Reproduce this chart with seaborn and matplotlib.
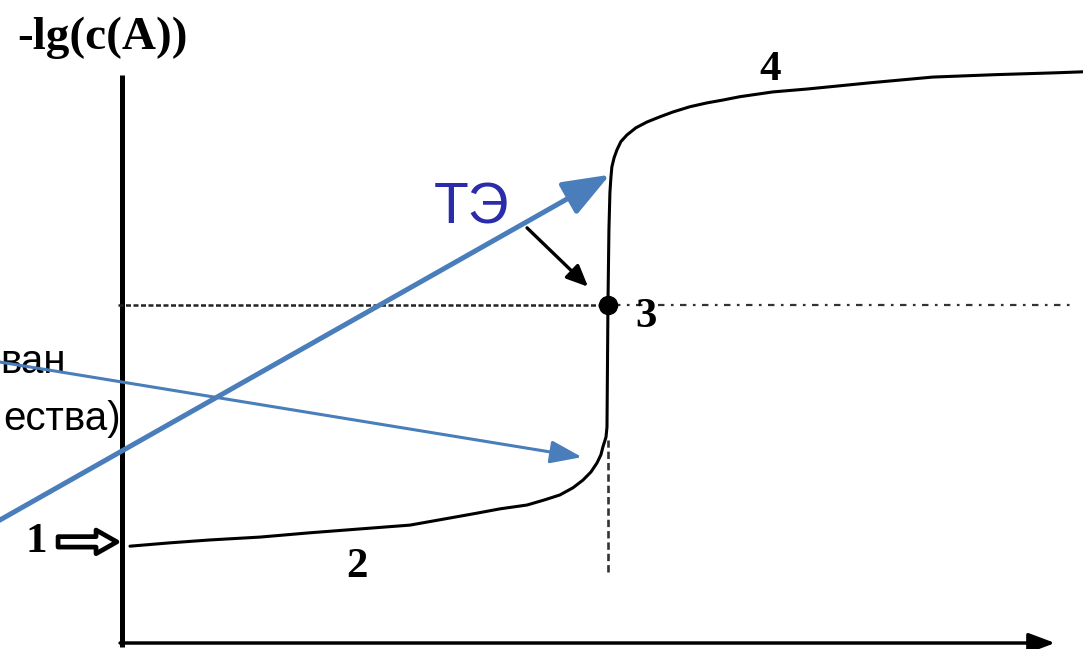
import numpy as np
import pandas as pd
import seaborn as sns
import matplotlib.pyplot as plt

# ---- data (titration curve) ----
volume = [0.33, 1.98, 3.62, 5.68, 7.74, 9.79, 11.85, 13.29, 14.61, 15.56,
          16.67, 17.41, 18.02, 18.56, 18.97, 19.30, 19.55, 19.71, 19.79, 19.92,
          19.96, 20.00, 20.04, 20.08, 20.12, 20.16, 20.25, 20.37, 20.53, 20.78,
          21.15, 21.60, 22.14, 22.67, 23.37, 24.07, 24.73, 25.43, 26.79, 28.19,
          30.78, 33.37, 35.93, 38.48, 39.55]
neg_lg_c = [1.96, 2.03, 2.09, 2.15, 2.24, 2.32, 2.40, 2.53, 2.65, 2.74,
            2.82, 2.93, 3.03, 3.18, 3.34, 3.51, 3.70, 3.87, 4.03, 4.24,
            4.45, 7.00, 8.57, 9.34, 9.65, 9.88, 10.07, 10.24, 10.41, 10.55,
            10.70, 10.82, 10.93, 11.03, 11.14, 11.22, 11.28, 11.35, 11.45, 11.51,
            11.64, 11.76, 11.81, 11.85, 11.87]
eq_volume = 20.0
eq_value = 7.0
point_labels = ["1", "2", "3", "4"]
y_label = "-lg(c(A))"
te_label = "ТЭ"
side_text = ["ван", "ества)"]

sns.set_style("white")
plt.rcParams["text.color"] = "black"
serif = ["Liberation Serif", "DejaVu Serif"]
sans = ["Liberation Sans", "DejaVu Sans"]

fig = plt.figure(figsize=(10.83, 6.49), dpi=100)
ax = fig.add_axes([0, 0, 1, 1])
ax.set_xlim(-5.02, 39.55)
ax.set_ylim(-0.188, 13.37)
ax.axis("off")

df = pd.DataFrame({"V": volume, "pA": neg_lg_c})
sns.lineplot(data=df, x="V", y="pA", ax=ax, color="black", lw=2.2,
             sort=False, estimator=None, zorder=3,
             solid_joinstyle="round", solid_capstyle="round")

# axes drawn as arrows
ax.plot([0, 0], [-0.146, 11.8], color="black", lw=3.6, solid_capstyle="butt")
ax.annotate("", xy=(38.4, -0.063), xytext=(-0.08, -0.063),
            arrowprops=dict(arrowstyle="-|>,head_length=0.8,head_width=0.3",
                            lw=2.5, color="black", mutation_scale=20,
                            shrinkA=0, shrinkB=0))

# equivalence reference lines
ax.plot([-0.16, eq_volume - 0.33], [eq_value, eq_value], color="#222222",
        lw=1.8, linestyle=(0, (2.0, 1.0)))
ax.plot([eq_volume + 0.25, 39.09], [eq_value, eq_value], color="#333333",
        lw=1.6, linestyle=(0, (2.9, 2.9, 1.2, 2.9)))
ax.plot([eq_volume, eq_volume], [1.42, 4.18], color="#333333",
        lw=1.9, linestyle=(0, (2.8, 1.5)))
ax.plot([eq_volume], [eq_value], "o", ms=13, color="black", zorder=5)

# labels
ax.text(-4.32, 12.58, y_label, fontfamily=serif, fontweight="bold",
        fontsize=34, ha="left", va="center", color="black")
ax.text(-3.54, 1.84, point_labels[0], fontfamily=serif, fontweight="bold",
        fontsize=31, ha="center", va="baseline", color="black")
ax.text(9.67, 1.32, point_labels[1], fontfamily=serif, fontweight="bold",
        fontsize=31, ha="center", va="baseline", color="black")
ax.text(21.56, 6.54, point_labels[2], fontfamily=serif, fontweight="bold",
        fontsize=31, ha="center", va="baseline", color="black")
ax.text(26.67, 11.70, point_labels[3], fontfamily=serif, fontweight="bold",
        fontsize=31, ha="center", va="baseline", color="black")

# outlined arrow next to "1"
ax.annotate("", xy=(-0.21, 2.05), xytext=(-2.63, 2.05),
            arrowprops=dict(arrowstyle="simple,head_length=1.5,head_width=1.7,tail_width=0.75",
                            fc="white", ec="black", lw=3.4, mutation_scale=10,
                            shrinkA=0, shrinkB=0))

# TЭ label and black pointer
ax.text(14.40, 8.71, te_label, fontfamily=sans, fontsize=41,
        color="#2b2caa", ha="center", va="baseline")
ax.annotate("", xy=(19.18, 7.38), xytext=(16.67, 8.61),
            arrowprops=dict(arrowstyle="-|>,head_length=1.3,head_width=0.58",
                            lw=2.4, color="black", mutation_scale=10,
                            shrinkA=0, shrinkB=0))

# side text (fragments of a longer caption)
ax.text(-5.0, 5.58, side_text[0], fontfamily=sans, fontsize=29,
        ha="left", va="baseline", color="black")
ax.text(-0.04, 4.39, side_text[1], fontfamily=sans, fontsize=29,
        ha="right", va="baseline", color="black")

# blue overlay arrows
blue = "#4a7ebb"
ax.annotate("", xy=(20.08, 9.72), xytext=(-5.43, 2.39),
            arrowprops=dict(arrowstyle="-|>,head_length=2.88,head_width=1.1",
                            lw=3.6, color=blue, mutation_scale=10,
                            shrinkA=0, shrinkB=0), zorder=6)
ax.annotate("", xy=(18.93, 3.82), xytext=(-5.43, 5.84),
            arrowprops=dict(arrowstyle="-|>,head_length=1.94,head_width=0.7",
                            lw=2.2, color=blue, mutation_scale=10,
                            shrinkA=0, shrinkB=0), zorder=6)

fig.savefig("out.png", dpi=100)
